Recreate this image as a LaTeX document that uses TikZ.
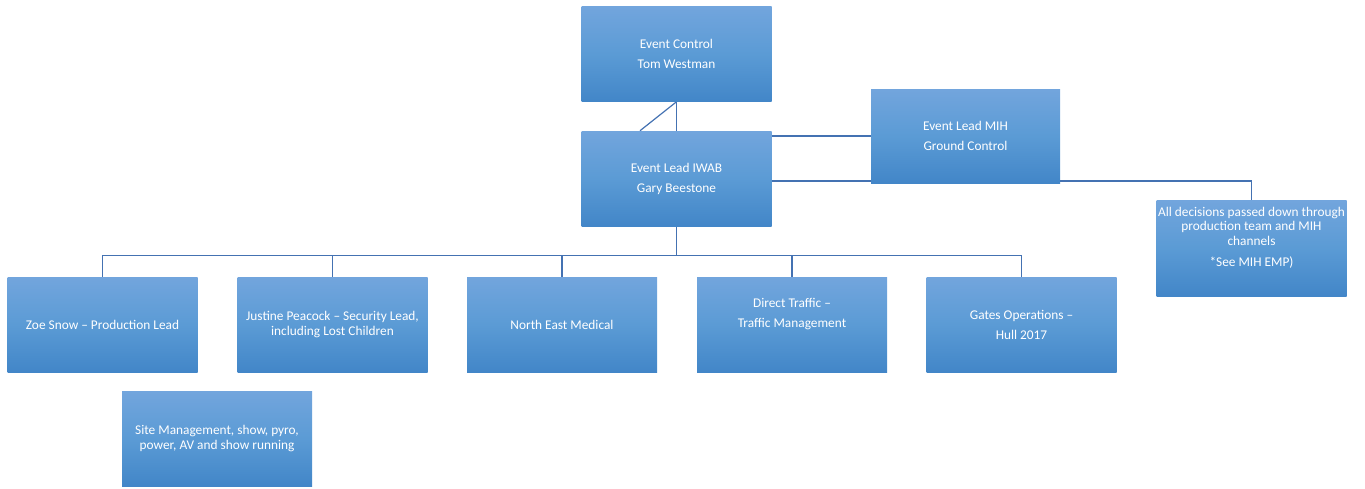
\documentclass[tikz,border=0pt]{standalone}
\usepackage{fontspec}
\setmainfont{Carlito}
\usetikzlibrary{calc,backgrounds}
\definecolor{boxtop}{RGB}{114,165,221}
\definecolor{boxmid}{RGB}{91,155,213}
\definecolor{boxbot}{RGB}{66,134,200}
\definecolor{linkcol}{RGB}{68,114,178}
\tikzset{
  orgbox/.style={rectangle, inner sep=0pt, minimum width=142.5pt, minimum height=71.25pt,
    top color=boxtop, bottom color=boxbot, middle color=boxmid, text=white, align=center,
    font=\fontsize{10}{11}\selectfont},
  link/.style={draw=linkcol, line width=0.9pt}
}
\begin{document}
\begin{tikzpicture}[x=0.75pt,y=-0.75pt]
\useasboundingbox (0,0) rectangle (1365,489);
\node[orgbox] (ec) at (676.5,54) {Event Control\\[4pt]Tom Westman};
\node[orgbox] (iwab) at (676.5,178.5) {Event Lead IWAB\\[4pt]Gary Beestone};
\node[orgbox, minimum width=141.75pt, minimum height=70.5pt] (mih) at (965.5,136) {Event Lead MIH\\[4pt]Ground Control};
\node[orgbox, minimum height=72pt] (note) at (1251.5,248) {All decisions passed down through\\production team and MIH\\channels\\[4.5pt]*See MIH EMP)\\[6pt]\mbox{}};
\node[orgbox] (zoe) at (102.5,324.5) {Zoe Snow – Production Lead};
\node[orgbox] (jus) at (332.5,324.5) {Justine Peacock – Security Lead,\\including Lost Children};
\node[orgbox] (nem) at (562,324.5) {North East Medical};
\node[orgbox] (dt) at (792,324.5) {Direct Traffic –\\[4pt]Traffic Management\\[6pt]\mbox{}};
\node[orgbox] (gates) at (1021.5,324.5) {Gates Operations –\\[4pt]Hull 2017};
\node[orgbox] (site) at (217,438.5) {Site Management, show, pyro,\\power, AV and show running};
\begin{pgfonlayer}{background}
\draw[link] (ec.south) -- (iwab.north);
\draw[link] (ec.south) -- ($(iwab.north)+(-36.5,0)$);
\draw[link] (iwab.east |- mih.west) -- (mih.west);
\draw[link] ($(iwab.east)+(0,2.5)$) -| (note.north);
\coordinate (bus) at ($(iwab.south)+(0,29.5)$);
\draw[link] (iwab.south) -- (bus);
\draw[link] (zoe.north) |- (bus);
\draw[link] (jus.north) |- (bus);
\draw[link] (nem.north) |- (bus);
\draw[link] (dt.north) |- (bus);
\draw[link] (gates.north) |- (bus);
\end{pgfonlayer}
\end{tikzpicture}
\end{document}
